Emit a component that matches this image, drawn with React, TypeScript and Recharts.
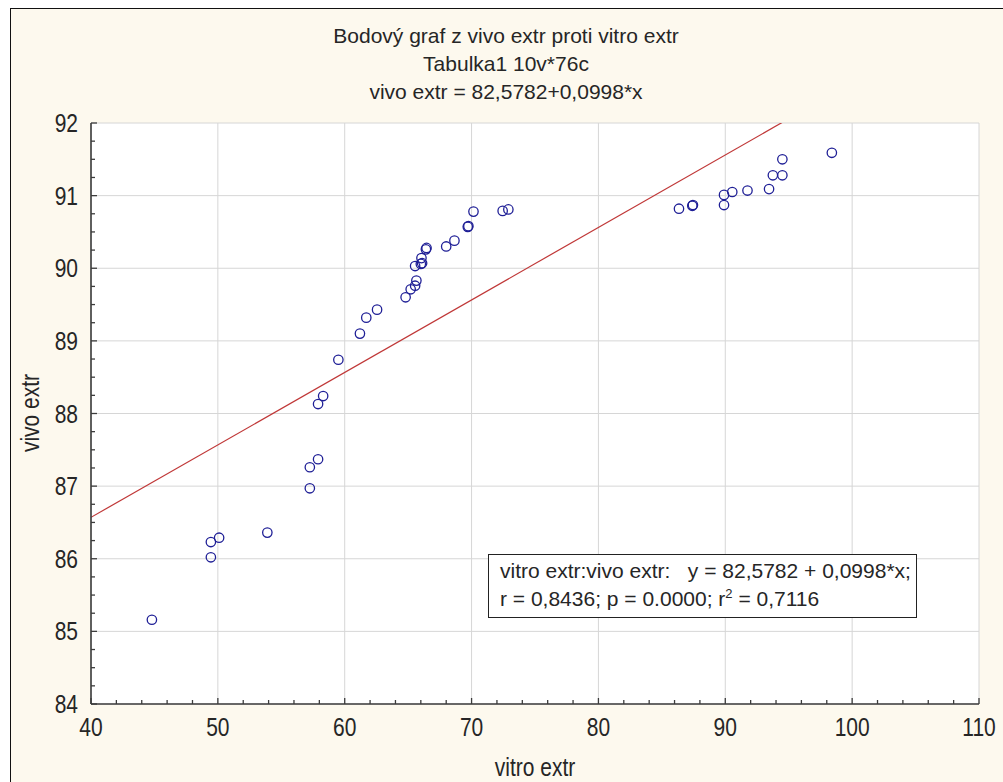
import React from "react";
import {
  ScatterChart,
  Scatter,
  XAxis,
  YAxis,
  CartesianGrid,
  ReferenceLine,
} from "recharts";

// (vitro extr -> vivo extr)
const VITRO = [
  44.8, 49.45, 49.45, 50.1, 53.9, 57.25, 57.25, 57.9, 57.9, 58.3, 59.5, 61.2,
  61.7, 62.55, 64.8, 65.2, 65.55, 65.65, 65.55, 66.0, 66.05, 66.1, 66.4, 66.45,
  68.0, 68.65, 69.7, 69.75, 70.15, 72.45, 72.9, 86.35, 87.4, 87.45, 89.9, 89.9,
  90.55, 91.75, 93.45, 93.75, 94.5, 94.5, 98.4,
];
const VIVO = [
  85.16, 86.02, 86.23, 86.29, 86.36, 86.97, 87.26, 87.37, 88.13, 88.24, 88.74,
  89.1, 89.32, 89.43, 89.6, 89.71, 89.76, 89.83, 90.03, 90.06, 90.14, 90.07,
  90.26, 90.28, 90.3, 90.38, 90.57, 90.58, 90.78, 90.79, 90.81, 90.82, 90.86,
  90.87, 90.87, 91.01, 91.05, 91.07, 91.09, 91.28, 91.28, 91.5, 91.59,
];

// regrese: vivo extr = 82,5782 + 0,0998*x
const INTERCEPT = 82.5782;
const SLOPE = 0.0998;

const X_MAJOR = [40, 50, 60, 70, 80, 90, 100, 110];
const Y_MAJOR = [84, 85, 86, 87, 88, 89, 90, 91, 92];

const X_TICKS: number[] = [];
for (let v = 40; v <= 110; v += 2) X_TICKS.push(v);
const Y_TICKS: number[] = [];
for (let v = 84; v <= 92.001; v += 0.25) Y_TICKS.push(Math.round(v * 100) / 100);

const TITLES = [
  "Bodový graf z vivo extr proti vitro extr",
  "Tabulka1 10v*76c",
  "vivo extr = 82,5782+0,0998*x",
];

const FONT = '"Liberation Sans", Arial, sans-serif';
const AXIS = "#3c3c3c";
const TEXT = "#262626";
const BG = "#fdf9ee";
const STRETCH = 1.2;

const points = VITRO.map((x, i) => ({ x, y: VIVO[i] }));

const isMajor = (list: number[], v: number) => list.some((m) => Math.abs(m - v) < 1e-6);

function BottomTick({ x, y, payload }: any) {
  const major = isMajor(X_MAJOR, payload.value);
  return (
    <g>
      <line x1={x} x2={x} y1={y} y2={y - (major ? 6 : 4)} stroke={AXIS} strokeWidth={1.3} />
      {major && (
        <text
          transform={`translate(${x} ${y + 32}) scale(1 ${STRETCH})`}
          textAnchor="middle"
          fontSize={21}
          fontFamily={FONT}
          fill={TEXT}
        >
          {payload.value}
        </text>
      )}
    </g>
  );
}

function TopTick({ x, y, payload }: any) {
  const major = isMajor(X_MAJOR, payload.value);
  return <line x1={x} x2={x} y1={y} y2={y + (major ? 6 : 4)} stroke={AXIS} strokeWidth={1.3} />;
}

function LeftTick({ x, y, payload }: any) {
  const major = isMajor(Y_MAJOR, payload.value);
  return (
    <g>
      <line x1={x} x2={x + (major ? 6 : 4)} y1={y} y2={y} stroke={AXIS} strokeWidth={1.3} />
      {major && (
        <text
          transform={`translate(${x - 13} ${y + 9}) scale(1 ${STRETCH})`}
          textAnchor="end"
          fontSize={21}
          fontFamily={FONT}
          fill={TEXT}
        >
          {payload.value}
        </text>
      )}
    </g>
  );
}

function RightTick({ x, y, payload }: any) {
  const major = isMajor(Y_MAJOR, payload.value);
  return <line x1={x} x2={x - (major ? 6 : 4)} y1={y} y2={y} stroke={AXIS} strokeWidth={1.3} />;
}

function Ring({ cx, cy }: any) {
  return <circle cx={cx} cy={cy} r={4.7} fill="none" stroke="#1f1f96" strokeWidth={1.3} />;
}

export default function App() {
  return (
    <div
      style={{
        position: "fixed",
        left: 0,
        top: 0,
        width: 1003,
        height: 782,
        background: "#fff",
        fontFamily: FONT,
        color: TEXT,
        overflow: "hidden",
      }}
    >
      <div
        style={{
          position: "absolute",
          left: 10,
          top: 8,
          width: 1003,
          height: 782,
          background: BG,
          borderLeft: "1.5px solid #111",
          borderTop: "1.5px solid #111",
        }}
      />
      <div style={{ position: "absolute", left: 0, top: 0 }}>
        <ScatterChart
          width={1003}
          height={782}
          margin={{ top: 123, right: 24, bottom: 28, left: 31 }}
        >
          <CartesianGrid
            stroke="#d6d6d6"
            fill="#ffffff"
            fillOpacity={1}
            verticalValues={X_MAJOR}
            horizontalValues={Y_MAJOR}
          />
          <XAxis
            type="number"
            dataKey="x"
            domain={[40, 110]}
            ticks={X_TICKS}
            interval={0}
            allowDataOverflow
            height={50}
            tickSize={0}
            tickMargin={0}
            tick={<BottomTick />}
            axisLine={{ stroke: AXIS, strokeWidth: 1.6 }}
          />
          <XAxis
            xAxisId="top"
            orientation="top"
            type="number"
            dataKey="x"
            domain={[40, 110]}
            ticks={X_TICKS}
            interval={0}
            allowDataOverflow
            height={0}
            tickSize={0}
            tickMargin={0}
            tick={<TopTick />}
            axisLine={{ stroke: AXIS, strokeWidth: 1.6 }}
          />
          <YAxis
            type="number"
            dataKey="y"
            domain={[84, 92]}
            ticks={Y_TICKS}
            interval={0}
            allowDataOverflow
            width={60}
            tickSize={0}
            tickMargin={0}
            tick={<LeftTick />}
            axisLine={{ stroke: AXIS, strokeWidth: 1.6 }}
          />
          <YAxis
            yAxisId="right"
            orientation="right"
            type="number"
            dataKey="y"
            domain={[84, 92]}
            ticks={Y_TICKS}
            interval={0}
            allowDataOverflow
            width={0}
            tickSize={0}
            tickMargin={0}
            tick={<RightTick />}
            axisLine={{ stroke: AXIS, strokeWidth: 1.6 }}
          />
          <ReferenceLine
            segment={[
              { x: 40, y: INTERCEPT + SLOPE * 40 },
              { x: 110, y: INTERCEPT + SLOPE * 110 },
            ]}
            stroke="#c03838"
            strokeWidth={1.2}
            ifOverflow="hidden"
          />
          <Scatter
            data={points}
            xAxisId="top"
            yAxisId="right"
            shape={() => <g />}
            isAnimationActive={false}
          />
          <Scatter data={points} shape={<Ring />} isAnimationActive={false} />
        </ScatterChart>
      </div>

      <svg
        width={1003}
        height={782}
        style={{ position: "absolute", left: 0, top: 0, pointerEvents: "none" }}
      >
        {TITLES.map((t, i) => (
          <text
            key={t}
            x={506}
            y={43 + i * 28}
            textAnchor="middle"
            fontSize={21}
            fontFamily={FONT}
            fill={TEXT}
          >
            {t}
          </text>
        ))}
        <text
          transform={`translate(535 776) scale(1 ${STRETCH})`}
          textAnchor="middle"
          fontSize={21}
          fontFamily={FONT}
          fill={TEXT}
        >
          vitro extr
        </text>
        <text
          transform={`translate(39 413) rotate(-90) scale(1 ${STRETCH})`}
          textAnchor="middle"
          fontSize={21}
          fontFamily={FONT}
          fill={TEXT}
        >
          vivo extr
        </text>
      </svg>

      <div
        style={{
          position: "absolute",
          left: 488,
          top: 554,
          width: 429,
          height: 64,
          boxSizing: "border-box",
          border: "1.5px solid #222",
          background: "#fff",
          padding: "2px 0 0 11px",
          fontSize: 21,
          lineHeight: "28px",
          whiteSpace: "pre",
        }}
      >
        <div>{"vitro extr:vivo extr:   y = 82,5782 + 0,0998*x;"}</div>
        <div>
          r = 0,8436; p = 0.0000; r<sup style={{ fontSize: 13, lineHeight: 0 }}>2</sup> = 0,7116
        </div>
      </div>
    </div>
  );
}
